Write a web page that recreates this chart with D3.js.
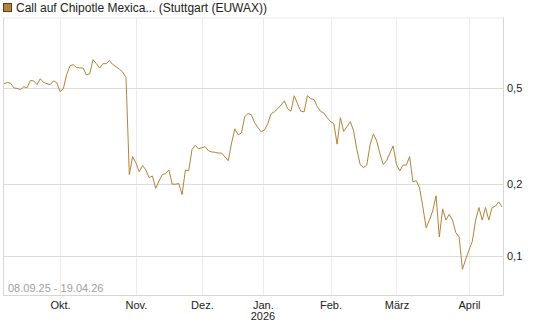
<!DOCTYPE html>
<html>
<head>
<meta charset="utf-8">
<script src="https://cdn.jsdelivr.net/npm/d3@7"></script>
<style>
  body { margin: 0; background: #fff; }
  svg { display: block; font-family: "Liberation Sans", Arial, sans-serif; }
</style>
</head>
<body>
<svg id="chart" width="545" height="327"></svg>
<script>
// daily closes, one per trading day from 08.09.25 to 17.04.26
let prices = [
  0.521, 0.527, 0.523, 0.500, 0.498, 0.492, 0.506, 0.501, 0.537, 0.535,
  0.516, 0.546, 0.527, 0.521, 0.516, 0.535, 0.526, 0.483, 0.497, 0.568,
  0.619, 0.625, 0.608, 0.606, 0.605, 0.566, 0.573, 0.656, 0.631, 0.605,
  0.631, 0.631, 0.650, 0.625, 0.613, 0.598, 0.582, 0.552, 0.218, 0.259,
  0.244, 0.224, 0.238, 0.228, 0.212, 0.215, 0.191, 0.205, 0.218, 0.220,
  0.228, 0.199, 0.199, 0.200, 0.180, 0.228, 0.226, 0.277, 0.289, 0.279,
  0.282, 0.285, 0.274, 0.271, 0.270, 0.268, 0.268, 0.258, 0.249, 0.295,
  0.338, 0.319, 0.325, 0.380, 0.391, 0.387, 0.358, 0.342, 0.328, 0.335,
  0.355, 0.391, 0.398, 0.410, 0.424, 0.442, 0.410, 0.400, 0.464, 0.430,
  0.400, 0.398, 0.464, 0.451, 0.448, 0.418, 0.400, 0.393, 0.376, 0.362,
  0.356, 0.292, 0.376, 0.330, 0.345, 0.362, 0.332, 0.277, 0.240, 0.233,
  0.239, 0.290, 0.322, 0.301, 0.266, 0.240, 0.249, 0.268, 0.287, 0.240,
  0.226, 0.239, 0.239, 0.259, 0.203, 0.206, 0.192, 0.160, 0.131, 0.141,
  0.154, 0.178, 0.120, 0.157, 0.141, 0.149, 0.141, 0.125, 0.120, 0.088,
  0.097, 0.106, 0.115, 0.141, 0.159, 0.141, 0.159, 0.141, 0.159, 0.161,
  0.168, 0.160
];
// first trading day of each month (index into prices)
let monthIdx = [17, 40, 60, 78.5, 99, 119, 141];
let monthLabels = ['Okt.', 'Nov.', 'Dez.', 'Jan.', 'Feb.', 'März', 'April'];
let yTicks = [0.1, 0.2, 0.5];
let title = 'Call auf Chipotle Mexica... (Stuttgart (EUWAX))';
let rangeText = '08.09.25 - 19.04.26';

let svg = d3.select('#chart');
let pLeft = 3, pRight = 503, pTop = 17.5, pBottom = 295;
let lineColor = '#b5823a';

let x = d3.scaleLinear().domain([0, prices.length - 1]).range([4, 502]);
let y = d3.scaleLog().domain([0.0688, 0.982]).range([pBottom, pTop]);

// vertical grid
svg.append('g')
  .selectAll('line')
  .data(monthIdx)
  .join('line')
  .attr('x1', d => Math.round(x(d)) + .5).attr('x2', d => Math.round(x(d)) + .5)
  .attr('y1', pTop).attr('y2', pBottom)
  .attr('stroke', '#ececec');

// horizontal grid
svg.append('g')
  .selectAll('line')
  .data(yTicks)
  .join('line')
  .attr('x1', pLeft).attr('x2', pRight)
  .attr('y1', d => Math.round(y(d)) + .5).attr('y2', d => Math.round(y(d)) + .5)
  .attr('stroke', '#dcdcdc');

// frame
svg.append('path')
  .attr('d', `M${pLeft + .5},${pTop}V${pBottom + .5}H${pRight + .5}V${pTop}`)
  .attr('fill', 'none')
  .attr('stroke', '#d6d6d6');
svg.append('line')
  .attr('x1', pLeft).attr('x2', pRight + 1)
  .attr('y1', pTop + .5).attr('y2', pTop + .5)
  .attr('stroke', '#ececec');

// y labels
let yAxis = d3.axisRight(y).tickValues(yTicks).tickSize(0).tickPadding(4)
  .tickFormat(d => String(d).replace('.', ','));
let yg = svg.append('g').attr('transform', `translate(${pRight},0)`).call(yAxis);
yg.select('.domain').remove();
yg.selectAll('text').attr('font-size', 11).attr('fill', '#222')
  .attr('font-family', '"Liberation Sans", Arial, sans-serif');

// x labels
let xAxis = d3.axisBottom(x).tickValues(monthIdx).tickSize(0).tickPadding(4)
  .tickFormat((d, i) => monthLabels[i]);
let xg = svg.append('g').attr('transform', `translate(0,${pBottom + 2})`).call(xAxis);
xg.select('.domain').remove();
xg.selectAll('text').attr('font-size', 11).attr('fill', '#222')
  .attr('font-family', '"Liberation Sans", Arial, sans-serif');
svg.append('text')
  .attr('x', x(monthIdx[3])).attr('y', 320)
  .attr('text-anchor', 'middle')
  .attr('font-size', 11).attr('fill', '#222')
  .text('2026');

// range text
svg.append('text')
  .attr('x', 8).attr('y', 292)
  .attr('font-size', 11).attr('fill', '#a0a0a0')
  .text(rangeText);

// price line
let line = d3.line().x((d, i) => x(i)).y(d => y(d));
svg.append('path')
  .datum(prices)
  .attr('d', line)
  .attr('fill', 'none')
  .attr('stroke', lineColor)
  .attr('stroke-width', 1)
  .attr('stroke-linejoin', 'round');

// legend
svg.append('rect')
  .attr('x', 3.5).attr('y', 3.5).attr('width', 8).attr('height', 8)
  .attr('fill', lineColor).attr('stroke', '#5a4020');
svg.append('text')
  .attr('x', 16).attr('y', 12)
  .attr('font-size', 12).attr('fill', '#222')
  .text(title);
</script>
</body>
</html>
